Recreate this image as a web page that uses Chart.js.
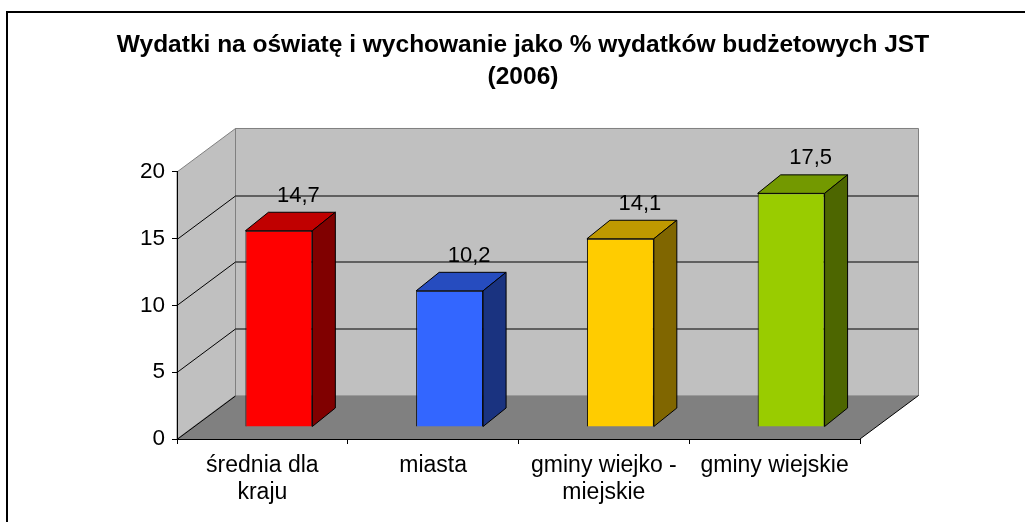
<!DOCTYPE html>
<html lang="pl">
<head>
<meta charset="utf-8">
<title>Wydatki na oświatę</title>
<script src="https://cdn.jsdelivr.net/npm/chart.js@4.4.1/dist/chart.umd.min.js"></script>
<style>
    html, body { margin: 0; padding: 0; background: #fff; overflow: hidden; }
    #wrap { position: relative; width: 1025px; height: 522px; }
</style>
</head>
<body>
<div id="wrap"><canvas id="chart" width="1025" height="522"></canvas></div>
<script>
// ============================================
// 1. Dane
// ============================================

const categories = [['średnia dla', 'kraju'], 'miasta', ['gminy wiejko -', 'miejskie'], 'gminy wiejskie'];
const values = [14.7, 10.2, 14.1, 17.5];
const yTicks = [0, 5, 10, 15, 20];
const titleLines = ['Wydatki na oświatę i wychowanie jako % wydatków budżetowych JST', '(2006)'];

// kolory słupków: przód / góra / bok
const frontColors = ['#FF0000', '#3366FF', '#FFCC00', '#99CC00'];
const topColors = ['#C00000', '#264CBF', '#BF9900', '#739900'];
const sideColors = ['#800000', '#1A3380', '#806600', '#4D6600'];

// ============================================
// 2. Geometria 3D (styl)
// ============================================

const WALL_DX = 58.5, WALL_DY = 43.5;   // głębokość podłogi i ścian
const BAR_OX = 16.5, BAR_OY = 12;       // przesunięcie przodu słupka w głąb
const BAR_DX = 23, BAR_DY = 18.5;       // głębokość słupka
const LABEL_DX = 36, LABEL_DY = 47;     // etykiety wartości

const FONT = "'Liberation Sans', Arial, sans-serif";

function fmt(v) {
    return String(v).replace('.', ',');
}

function poly(ctx, pts, fill, stroke, width) {
    ctx.beginPath();
    ctx.moveTo(pts[0][0], pts[0][1]);
    for (let i = 1; i < pts.length; i++) ctx.lineTo(pts[i][0], pts[i][1]);
    ctx.closePath();
    if (fill) { ctx.fillStyle = fill; ctx.fill(); }
    if (stroke) { ctx.strokeStyle = stroke; ctx.lineWidth = width || 1; ctx.stroke(); }
}

function line(ctx, pts, color, width) {
    ctx.beginPath();
    ctx.moveTo(pts[0][0], pts[0][1]);
    for (let i = 1; i < pts.length; i++) ctx.lineTo(pts[i][0], pts[i][1]);
    ctx.strokeStyle = color;
    ctx.lineWidth = width || 1;
    ctx.stroke();
}

// ============================================
// 3. Plugin: ściany, podłoga, bryły słupków
// ============================================

const box3d = {
    id: 'box3d',
    beforeDraw(chart) {
        const ctx = chart.ctx;
        const { left, right } = chart.chartArea;
        const ys = chart.scales.y;
        const y0 = ys.getPixelForValue(yTicks[0]);
        const yMax = ys.getPixelForValue(yTicks[yTicks.length - 1]);

        ctx.save();
        ctx.fillStyle = '#fff';
        ctx.fillRect(0, 0, chart.width, chart.height);

        // ramka wykresu
        ctx.strokeStyle = '#000';
        ctx.lineWidth = 2;
        ctx.strokeRect(7, 12, chart.width + 40, chart.height + 40);

        // ściana tylna
        poly(ctx, [
            [left + WALL_DX, yMax - WALL_DY], [right + WALL_DX, yMax - WALL_DY],
            [right + WALL_DX, y0 - WALL_DY], [left + WALL_DX, y0 - WALL_DY]
        ], '#C0C0C0', '#808080');

        // ściana boczna
        poly(ctx, [
            [left, yMax], [left + WALL_DX, yMax - WALL_DY],
            [left + WALL_DX, y0 - WALL_DY], [left, y0]
        ], '#C0C0C0', '#808080');

        // podłoga
        poly(ctx, [
            [left, y0], [left + WALL_DX, y0 - WALL_DY],
            [right + WALL_DX, y0 - WALL_DY], [right, y0]
        ], '#808080', null);
        line(ctx, [[left + WALL_DX, y0 - WALL_DY], [right + WALL_DX, y0 - WALL_DY]], '#9A9A9A', 1);
        line(ctx, [[right, y0], [right + WALL_DX, y0 - WALL_DY]], '#000', 1);

        // linie siatki
        yTicks.forEach(v => {
            if (v === yTicks[yTicks.length - 1]) return;
            const yy = Math.round(ys.getPixelForValue(v)) + 0.5;
            if (v === yTicks[0]) {
                line(ctx, [[left, yy], [left + WALL_DX, yy - WALL_DY]], '#000', 1);
                return;
            }
            line(ctx, [[left, yy], [left + WALL_DX, yy - WALL_DY], [right + WALL_DX, yy - WALL_DY]], '#000', 1);
        });
        ctx.restore();
    },
    beforeDatasetsDraw(chart) {
        chart.ctx.save();
        chart.ctx.translate(BAR_OX, -BAR_OY);
    },
    afterDatasetsDraw(chart) {
        const ctx = chart.ctx;
        const meta = chart.getDatasetMeta(0);
        meta.data.forEach((el, i) => {
            const { x, y, base, width } = el.getProps(['x', 'y', 'base', 'width'], true);
            const l = x - width / 2, r = x + width / 2;
            poly(ctx, [[l, y], [l + BAR_DX, y - BAR_DY], [r + BAR_DX, y - BAR_DY], [r, y]], topColors[i], '#000', 1);
            poly(ctx, [[r, y], [r + BAR_DX, y - BAR_DY], [r + BAR_DX, base - BAR_DY], [r, base]], sideColors[i], '#000', 1);
        });
        ctx.restore();

        // etykiety wartości
        ctx.save();
        ctx.font = '22px ' + FONT;
        ctx.fillStyle = '#000';
        ctx.textAlign = 'center';
        ctx.textBaseline = 'middle';
        meta.data.forEach((el, i) => {
            ctx.fillText(fmt(values[i]), el.x + LABEL_DX, el.y - LABEL_DY);
        });
        ctx.restore();
    }
};

// ============================================
// 4. Wykres
// ============================================

Chart.defaults.font.family = FONT;
Chart.defaults.color = '#000';

new Chart(document.getElementById('chart'), {
    type: 'bar',
    data: {
        labels: categories,
        datasets: [{
            data: values,
            backgroundColor: frontColors,
            borderColor: '#000',
            borderWidth: 1,
            barPercentage: 0.392,
            categoryPercentage: 1,
            clip: false
        }]
    },
    options: {
        responsive: false,
        animation: false,
        devicePixelRatio: 1,
        layout: { padding: { left: 21, right: 0, top: 0, bottom: 0 } },
        plugins: {
            legend: { display: false },
            tooltip: { enabled: false },
            title: {
                display: true,
                text: titleLines,
                color: '#000',
                font: { size: 24.5, weight: 'bold', lineHeight: 1.306 },
                padding: { top: 29, bottom: 79 }
            }
        },
        scales: {
            x: {
                grid: { offset: true, drawOnChartArea: false, color: '#000', tickLength: 5 },
                border: { color: '#000', width: 1 },
                ticks: { font: { size: 23, lineHeight: 1.17 }, padding: 8, maxRotation: 0, minRotation: 0, autoSkip: false },
                afterFit(s) { s.height = 83; }
            },
            y: {
                min: yTicks[0],
                max: yTicks[yTicks.length - 1],
                afterBuildTicks(s) { s.ticks = yTicks.map(v => ({ value: v })); },
                grid: { drawOnChartArea: false, color: '#000', tickLength: 5 },
                border: { color: '#000', width: 1 },
                ticks: { font: { size: 22.5 }, padding: 7 },
                afterFit(s) { s.width = 156; }
            },
            pad: {
                type: 'linear',
                position: 'right',
                grid: { display: false },
                border: { display: false },
                ticks: { display: false },
                afterFit(s) { s.width = 165; }
            }
        }
    },
    plugins: [box3d]
});
</script>
</body>
</html>
